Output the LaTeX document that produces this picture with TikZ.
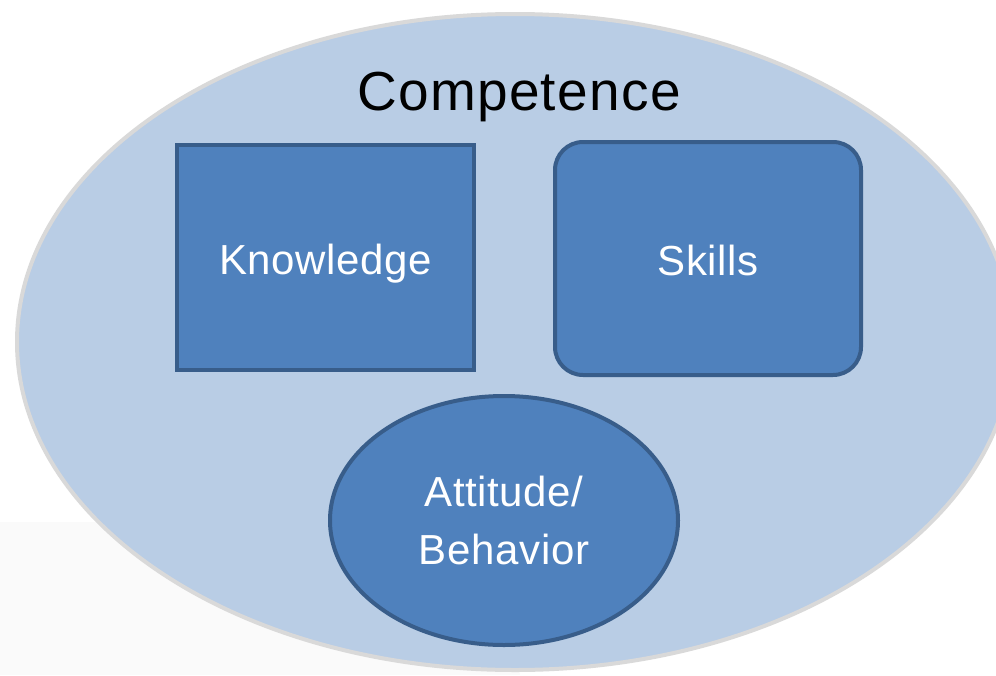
\documentclass[tikz,border=0pt]{standalone}
\usepackage{fontspec}
\setmainfont{Liberation Sans}
\usepackage{tikz}
\usetikzlibrary{shapes.geometric}
\newfontfamily\titleFont[LetterSpace=2.4]{Liberation Sans}
\newfontfamily\partFont[LetterSpace=1.5]{Liberation Sans}
\definecolor{ringFill}{HTML}{B9CDE5}
\definecolor{ringLine}{HTML}{D9D9D9}
\definecolor{partFill}{HTML}{4F81BD}
\definecolor{partLine}{HTML}{385D8A}
\tikzstyle{ring}=[ellipse,draw=ringLine,fill=ringFill,line width=4pt,minimum width=996pt,minimum height=656pt,inner sep=0pt]
\tikzstyle{ringTitle}=[anchor=base,font=\titleFont\fontsize{55}{66}\selectfont]
\tikzstyle{part}=[draw=partLine,fill=partFill,line width=4pt,text=white,inner sep=0pt,font=\partFont\fontsize{42}{58}\selectfont]
\tikzstyle{partBox}=[part,rectangle,text height=33pt,text depth=0pt]
\tikzstyle{partOval}=[part,ellipse,align=center]

\begin{document}
\begin{tikzpicture}[x=1pt,y=-1pt]
  \useasboundingbox (0,0) rectangle (996,675);
  \clip (0,0) rectangle (996,675);
  \fill[white] (0,0) rectangle (996,675);
  \fill[black!2] (0,522) rectangle (520,675);
  % outer ring and its title
  \node[ring] (comp) at (515,342) {};
  \node[ringTitle] (compTitle) at (519,110) {Competence};
  % the three parts
  \node[partBox,minimum width=297pt,minimum height=225pt] (know) at (325.5,257.5) {Knowledge};
  \node[partBox,rounded corners=28pt,minimum width=306pt,minimum height=233pt] (skill) at (708,258.5) {Skills};
  \node[partOval,minimum width=348pt,minimum height=249pt] (attit) at (504,520.5) {Attitude/\\Behavior};
\end{tikzpicture}
\end{document}
